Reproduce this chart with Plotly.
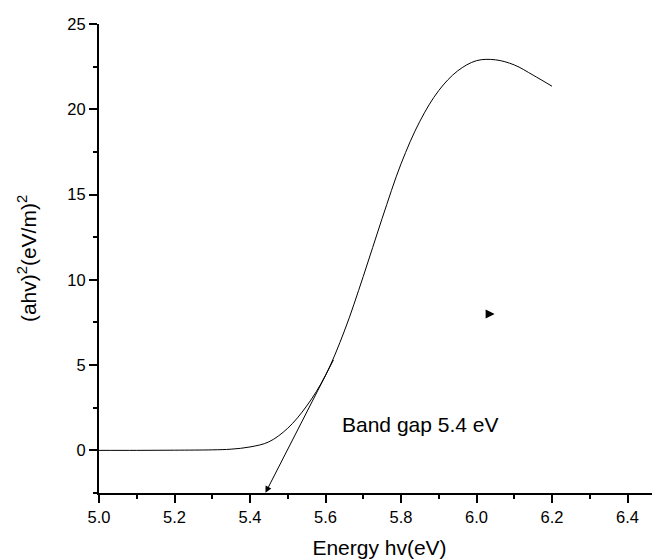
import plotly.graph_objects as go

energy = [5.0, 5.1, 5.2, 5.3, 5.35, 5.4, 5.45, 5.5, 5.55, 5.6, 5.65, 5.7, 5.75, 5.8,
          5.85, 5.9, 5.95, 6.0, 6.05, 6.1, 6.15, 6.2]
absorb = [0.0, 0.0, 0.01, 0.03, 0.07, 0.2, 0.5, 1.3, 2.6, 4.4, 7.0, 10.2, 13.6, 16.8,
          19.3, 21.1, 22.25, 22.85, 22.9, 22.6, 22.0, 21.35]

tangent_start = (5.623, 5.39)
tangent_end = (5.441, -2.49)
flag_pos = (6.012, 8.0)
label_text = "Band gap 5.4 eV"
label_pos = (5.85, 1.5)

font_family = "Arial, Liberation Sans, sans-serif"

fig = go.Figure()
fig.add_trace(go.Scatter(x=energy, y=absorb, mode="lines", line=dict(color="black", width=1),
                         line_shape="spline", showlegend=False, hoverinfo="skip"))

fig.add_annotation(x=tangent_end[0], y=tangent_end[1], ax=tangent_start[0], ay=tangent_start[1],
                   xref="x", yref="y", axref="x", ayref="y", text="", showarrow=True,
                   arrowhead=2, arrowsize=1.3, arrowwidth=1, arrowcolor="black")
fig.add_annotation(x=flag_pos[0] + 0.036, y=flag_pos[1], ax=flag_pos[0] + 0.012, ay=flag_pos[1],
                   xref="x", yref="y", axref="x", ayref="y", text="", showarrow=True,
                   arrowhead=2, arrowsize=1.8, arrowwidth=1, arrowcolor="black")
fig.add_annotation(x=label_pos[0], y=label_pos[1], xref="x", yref="y", text=label_text,
                   showarrow=False, font=dict(family=font_family, size=21, color="black"))

# page body has an 8px margin; compensate so the plot lands where the reference has it
fig.update_layout(
    width=652, height=552,
    margin=dict(l=91, r=0, t=16, b=67),
    paper_bgcolor="white", plot_bgcolor="white",
    font=dict(family=font_family, color="black"),
    xaxis=dict(range=[5.0, 6.486], tickvals=[5.0, 5.2, 5.4, 5.6, 5.8, 6.0, 6.2, 6.4],
               ticktext=["5.0", "5.2", "5.4", "5.6", "5.8", "6.0", "6.2", "6.4"],
               ticks="outside", ticklen=8, tickwidth=1.5, tickcolor="black",
               minor=dict(dtick=0.1, tick0=5.0, ticks="outside", ticklen=4, tickwidth=1.5, tickcolor="black"),
               showline=True, linecolor="black", linewidth=2, showgrid=False, zeroline=False,
               tickfont=dict(size=16.5), title=dict(text="Energy hv(eV)", font=dict(size=21), standoff=16)),
    yaxis=dict(range=[-2.5, 25], tickvals=[0, 5, 10, 15, 20, 25],
               ticks="outside", ticklen=8, tickwidth=1.5, tickcolor="black",
               minor=dict(dtick=2.5, tick0=0, ticks="outside", ticklen=4, tickwidth=1.5, tickcolor="black"),
               showline=True, linecolor="black", linewidth=2, showgrid=False, zeroline=False,
               tickfont=dict(size=16.5),
               title=dict(text="(ahv)<sup>2</sup>(eV/m)<sup>2</sup>", font=dict(size=21), standoff=25)),
)

fig.write_html("out.html")
